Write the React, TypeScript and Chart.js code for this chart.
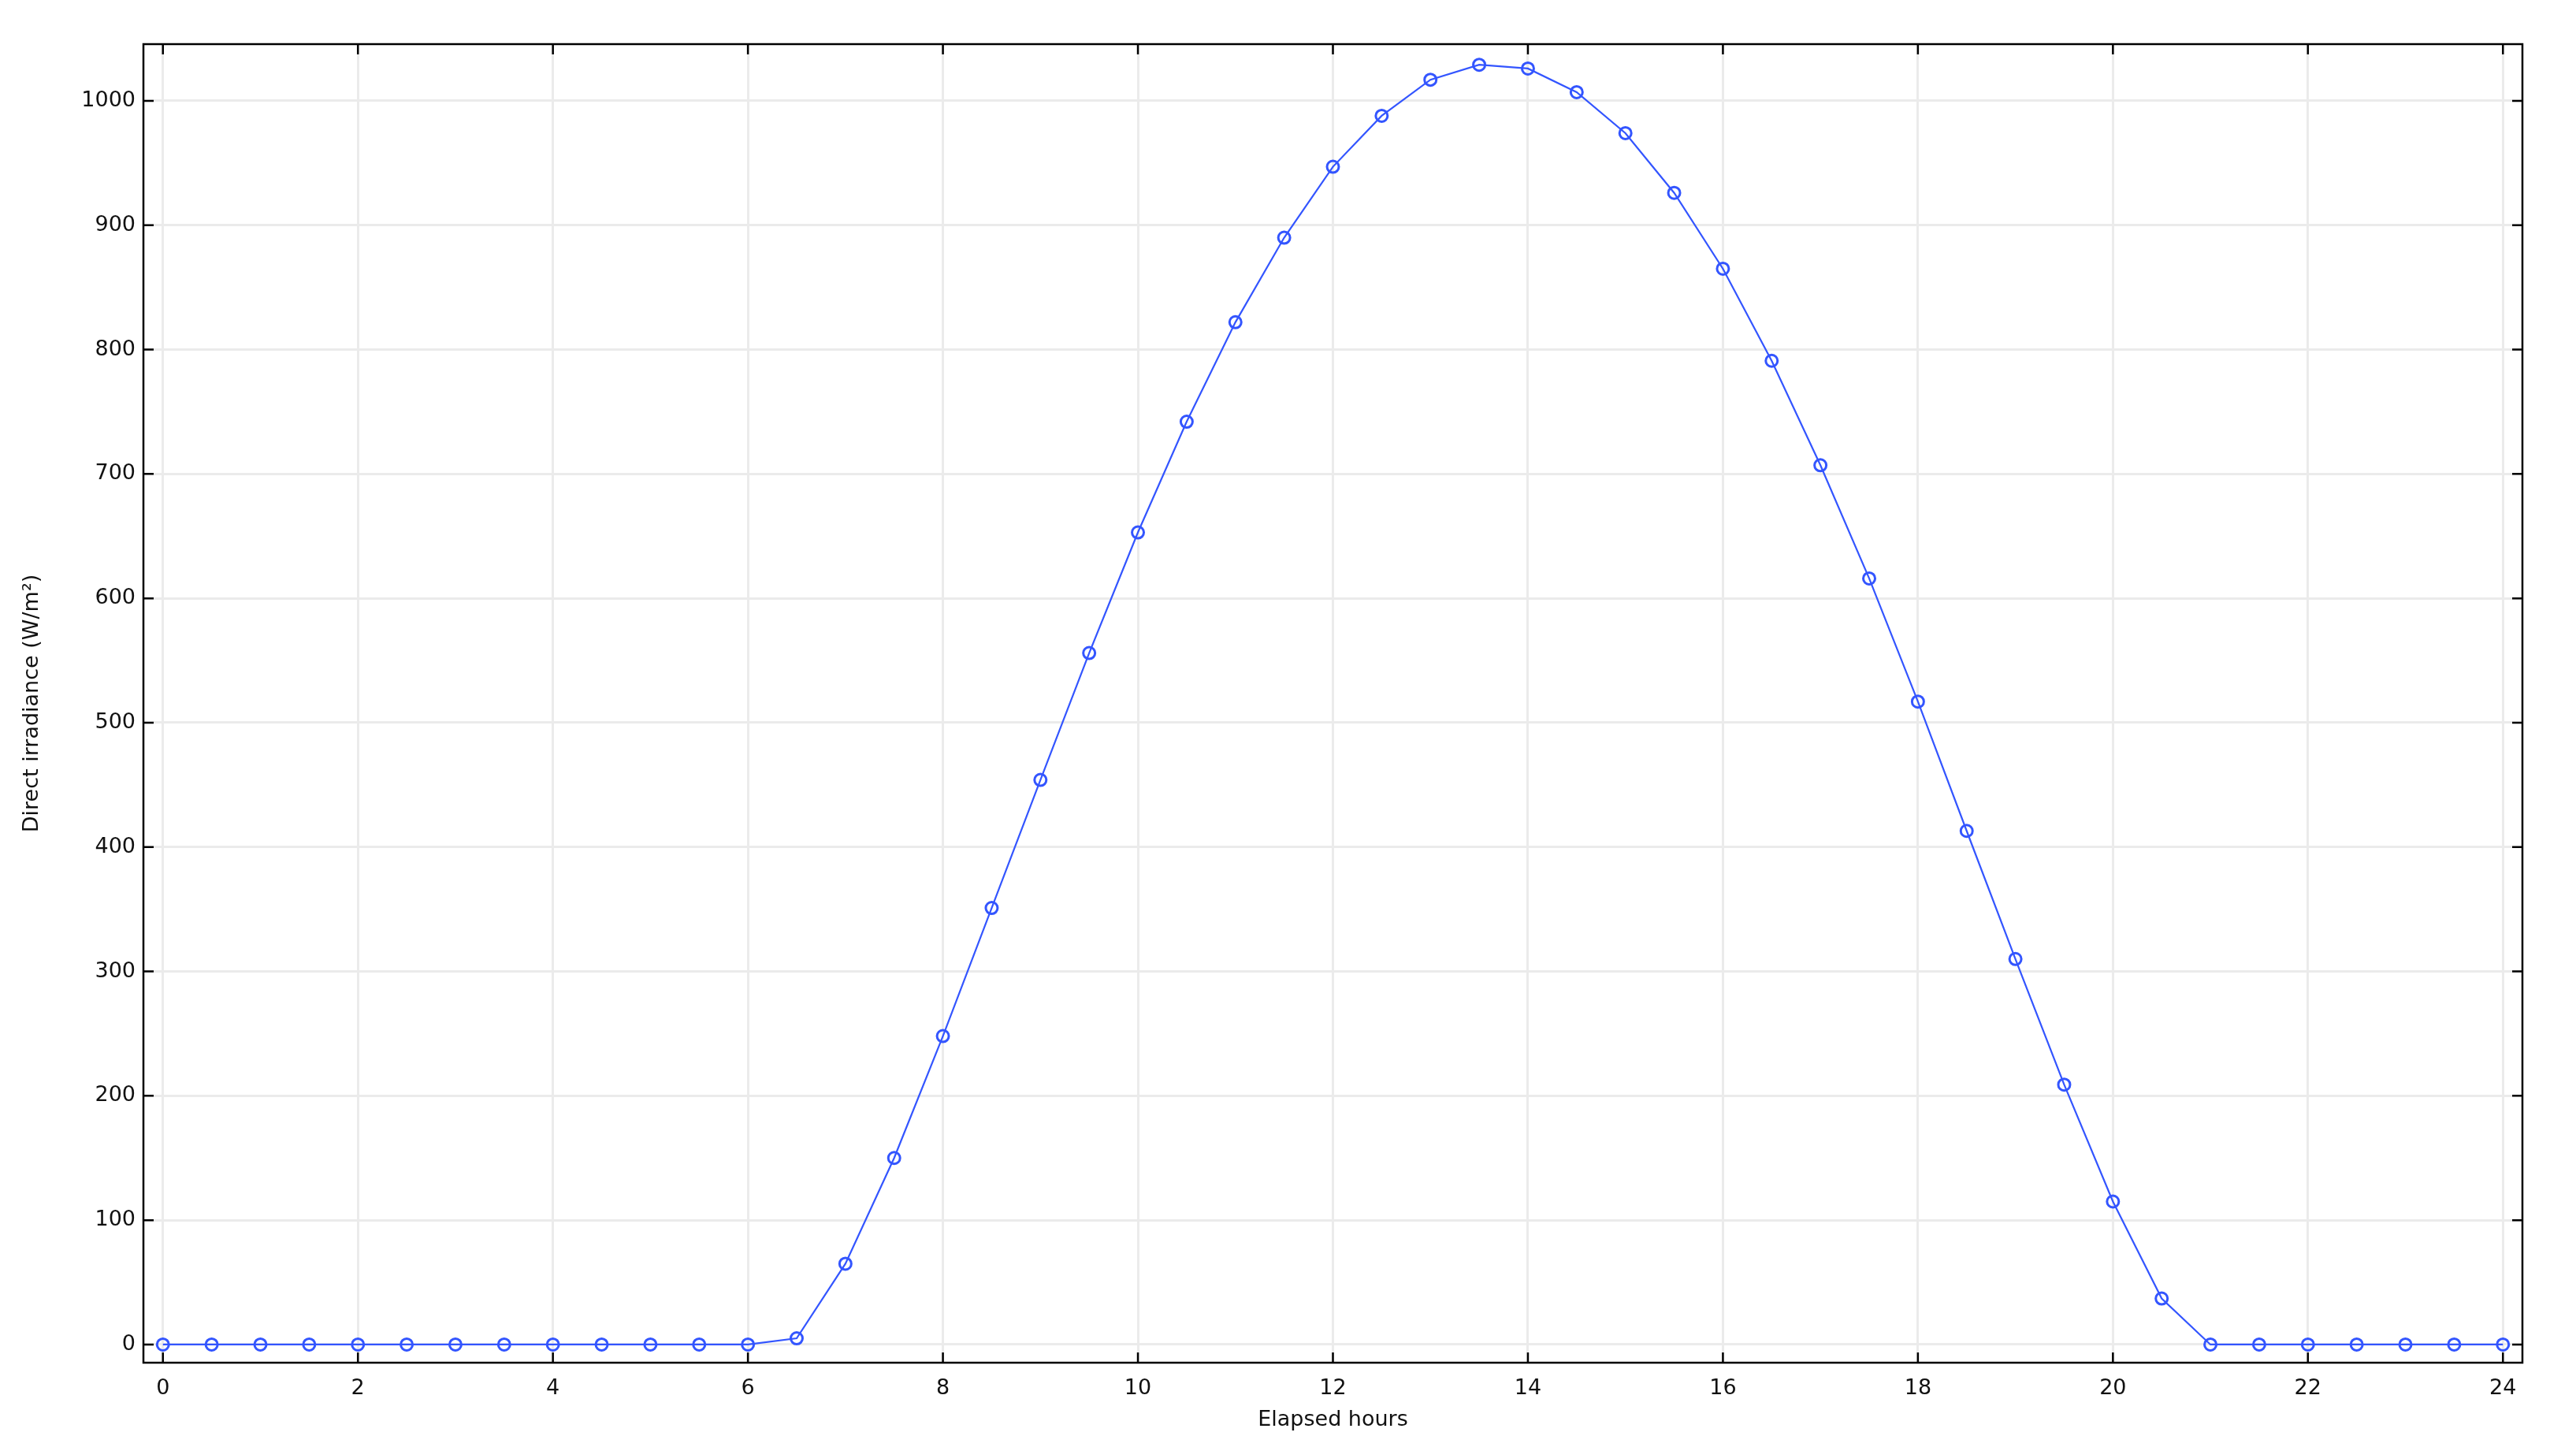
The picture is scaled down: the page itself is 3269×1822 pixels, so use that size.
import React, { useEffect, useRef } from "react";
import { Chart, registerables } from "chart.js";

Chart.register(...registerables);

const hours = [
  0, 0.5, 1, 1.5, 2, 2.5, 3, 3.5, 4, 4.5, 5, 5.5, 6, 6.5, 7, 7.5, 8, 8.5, 9, 9.5,
  10, 10.5, 11, 11.5, 12, 12.5, 13, 13.5, 14, 14.5, 15, 15.5, 16, 16.5, 17, 17.5,
  18, 18.5, 19, 19.5, 20, 20.5, 21, 21.5, 22, 22.5, 23, 23.5, 24,
];
const irradiance = [
  0, 0, 0, 0, 0, 0, 0, 0, 0, 0, 0, 0, 0, 5, 65, 150, 248, 351, 454, 556,
  653, 742, 822, 890, 947, 988, 1017, 1029, 1026, 1007, 974, 926, 865, 791, 707, 616,
  517, 413, 310, 209, 115, 37, 0, 0, 0, 0, 0, 0, 0,
];
const xTicks = [0, 2, 4, 6, 8, 10, 12, 14, 16, 18, 20, 22, 24];
const yTicks = [0, 100, 200, 300, 400, 500, 600, 700, 800, 900, 1000];

const xTitle = "Elapsed hours";
const yTitle = "Direct irradiance (W/m\u00B2)";

const FONT = "'DejaVu Sans', sans-serif";
const LINE = "#3355ff";

const frameTicks = {
  id: "frameTicks",
  afterDatasetsDraw(chart: any) {
    const { ctx, chartArea } = chart;
    const { left, right, top, bottom } = chartArea;
    const xs = chart.scales.x;
    const ys = chart.scales.y;
    const len = 13;
    ctx.save();
    ctx.strokeStyle = "#000";
    ctx.lineWidth = 2.5;
    ctx.beginPath();
    for (const v of xTicks) {
      const px = xs.getPixelForValue(v);
      ctx.moveTo(px, bottom);
      ctx.lineTo(px, bottom - len);
      ctx.moveTo(px, top);
      ctx.lineTo(px, top + len);
    }
    for (const v of yTicks) {
      const py = ys.getPixelForValue(v);
      ctx.moveTo(left, py);
      ctx.lineTo(left + len, py);
      ctx.moveTo(right, py);
      ctx.lineTo(right - len, py);
    }
    ctx.stroke();
    ctx.strokeRect(left, top, right - left, bottom - top);
    ctx.restore();
  },
};

export default function App() {
  const ref = useRef<HTMLCanvasElement | null>(null);
  useEffect(() => {
    if (!ref.current) return;
    const chart = new Chart(ref.current, {
      type: "line",
      data: {
        datasets: [
          {
            data: hours.map((h, i) => ({ x: h, y: irradiance[i] })),
            borderColor: LINE,
            borderWidth: 2.2,
            pointRadius: 7.5,
            pointBorderWidth: 3,
            pointBorderColor: LINE,
            pointBackgroundColor: "rgba(0,0,0,0)",
            tension: 0,
            fill: false,
          },
        ],
      },
      options: {
        responsive: false,
        animation: false,
        devicePixelRatio: 1,
        layout: { padding: { left: 0, top: 56, right: 68, bottom: 0 } },
        plugins: { legend: { display: false }, tooltip: { enabled: false } },
        scales: {
          x: {
            type: "linear",
            min: -0.2,
            max: 24.2,
            afterBuildTicks: (s: any) => {
              s.ticks = xTicks.map((v) => ({ value: v }));
            },
            afterFit: (s: any) => {
              s.height = 93;
            },
            grid: { color: "#ebebeb", lineWidth: 3, drawTicks: false },
            border: { display: false },
            ticks: {
              autoSkip: false,
              maxRotation: 0,
              padding: 17,
              color: "#111",
              font: { family: FONT, size: 27 },
              callback: (v: any) => String(v),
            },
            title: {
              display: true,
              text: xTitle,
              color: "#111",
              font: { family: FONT, size: 27 },
              padding: { top: 4, bottom: 4 },
            },
          },
          y: {
            type: "linear",
            min: -14.6,
            max: 1045.6,
            afterBuildTicks: (s: any) => {
              s.ticks = yTicks.map((v) => ({ value: v }));
            },
            afterFit: (s: any) => {
              s.width = 182;
            },
            grid: { color: "#ebebeb", lineWidth: 3, drawTicks: false },
            border: { display: false },
            ticks: {
              autoSkip: false,
              padding: 10,
              color: "#111",
              font: { family: FONT, size: 27 },
              callback: (v: any) => String(v),
            },
            title: {
              display: true,
              text: yTitle,
              color: "#111",
              font: { family: FONT, size: 27 },
              padding: { top: 25, bottom: 4 },
            },
          },
        },
      },
      plugins: [frameTicks],
    });
    return () => chart.destroy();
  }, []);
  return (
    <canvas
      ref={ref}
      width={3269}
      height={1822}
      style={{ position: "fixed", left: 0, top: 0, width: 3269, height: 1822, background: "#fff" }}
    />
  );
}
